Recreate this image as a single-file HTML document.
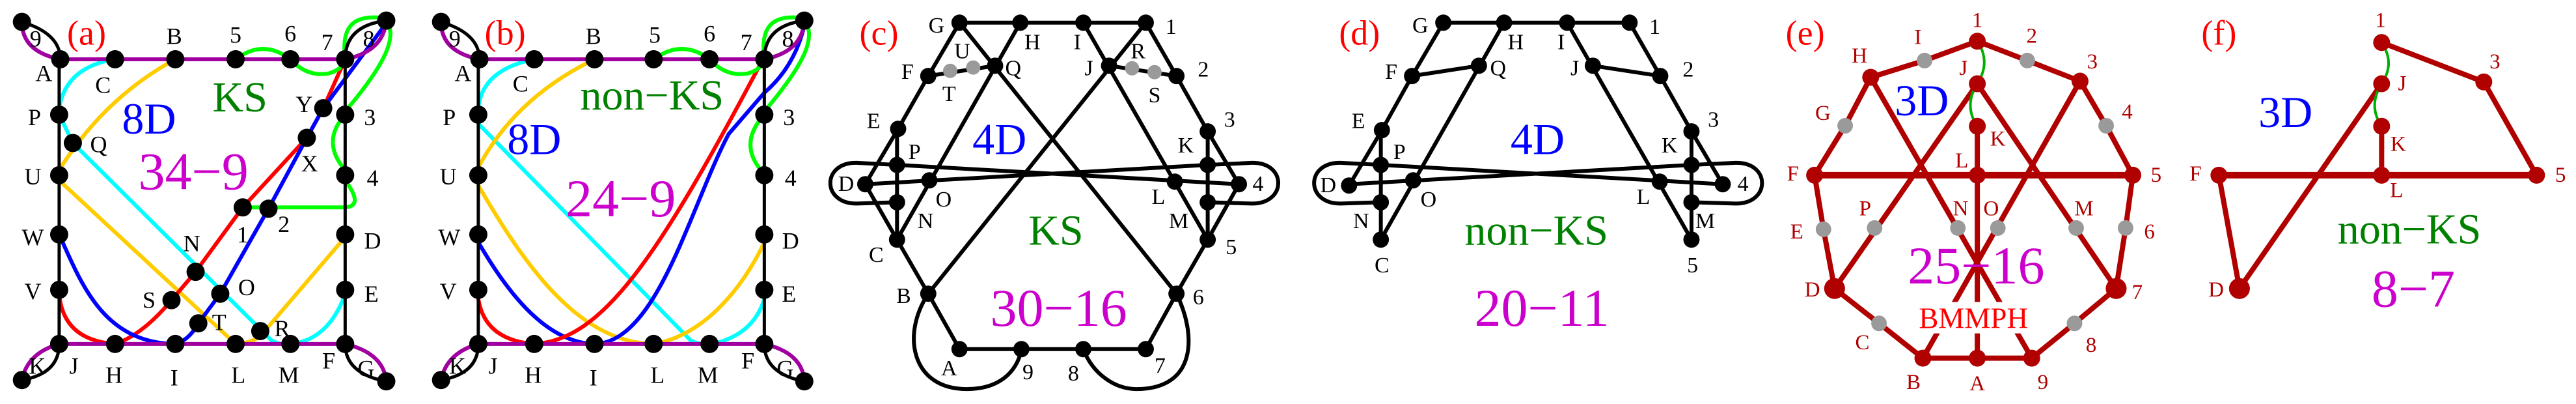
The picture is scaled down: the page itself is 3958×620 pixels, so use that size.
<!DOCTYPE html>
<html><head><meta charset="utf-8"><style>
html,body{margin:0;padding:0;background:#fff}
body{width:3958px;height:620px;position:relative;overflow:hidden}
svg.p{position:absolute;top:0;height:620px;overflow:visible}
svg path,svg polyline,svg line{vector-effect:non-scaling-stroke;fill:none;stroke-linejoin:round;stroke-linecap:round}
text{font-family:"Liberation Serif",serif;text-anchor:middle;dominant-baseline:central}
.s{font-size:36px;fill:#000}
.s2{font-size:34px;fill:#000}
.r{font-size:33px;fill:#b00000}
.lab{font-size:54px;fill:#f00}
.bl{font-size:68px;fill:#00f}
.gr{font-size:66px;fill:#008000}
.mg{font-size:82px;fill:#cc00cc}
</style></head><body>

<!-- Panels a, b -->
<svg class="p" style="left:0" width="1320" height="620" viewBox="0 0 1568 1568" preserveAspectRatio="none">
<g stroke-width="6">
<!-- a -->
<path stroke="#00ffff" d="M210,230 Q120,260 108,420 M108,445 L133,555 L495,1320 Q510,1340 530,1335 Q600,1320 630,1140"/>
<path stroke="#ffcc00" d="M320,230 Q190,380 108,660 M108,700 L430,1335 M430,1335 Q470,1330 485,1280 L630,920"/>
<path stroke="#f00" d="M108,1140 Q115,1320 210,1335 Q260,1300 313,1165 L357,1055 L443,805 L560,535 L590,420 L630,230"/>
<path stroke="#00f" d="M108,910 C150,1110 190,1330 320,1335 Q345,1320 362,1255 L402,1140 L490,810 L560,535 L590,420 L705,90"/>
<path stroke="#00ff00" d="M430,230 Q480,150 530,230 M530,230 Q560,300 600,285 Q625,270 630,230 M630,230 C620,70 660,60 705,70 M705,80 C730,150 690,280 635,420 M630,445 Q585,550 630,660 M630,700 Q665,800 630,805 L443,805"/>
<path stroke="#a000a0" d="M40,85 Q40,200 110,230 L630,230 Q700,200 705,80 M40,1475 Q50,1370 108,1335 L630,1335 Q700,1370 705,1480"/>
<path stroke="#000" stroke-width="5" d="M40,85 Q110,130 110,230 M630,230 Q630,100 705,80 M108,1335 Q108,1450 40,1475 M630,1335 Q630,1450 705,1480 M108,230 L108,1335 M630,230 L630,1335"/>
<!-- b -->
<path stroke="#00ffff" d="M975,230 Q880,270 873,420 M873,480 L1260,1320 Q1275,1340 1300,1335 Q1375,1300 1395,1160"/>
<path stroke="#ffcc00" d="M1085,230 Q940,380 873,650 M873,720 C950,1000 1050,1330 1193,1335 M1193,1335 C1290,1300 1360,1100 1395,940"/>
<path stroke="#00f" d="M873,940 C930,1150 1000,1330 1085,1335 C1200,1330 1260,800 1330,520 L1395,360 Q1450,260 1468,100"/>
<path stroke="#f00" d="M873,1160 Q885,1320 975,1335 C1100,1320 1200,1000 1385,260"/>
<path stroke="#00ff00" d="M1193,230 Q1245,150 1295,230 M1295,230 Q1325,300 1365,285 Q1390,270 1395,230 M1395,230 C1385,70 1425,60 1470,70 M1468,80 C1495,150 1455,280 1400,420 M1395,445 Q1350,550 1385,650"/>
<path stroke="#a000a0" d="M805,85 Q805,200 875,230 L1395,230 Q1465,200 1468,80 M805,1475 Q815,1370 873,1335 L1395,1335 Q1465,1370 1468,1480"/>
<path stroke="#000" stroke-width="5" d="M805,85 Q875,130 875,230 M1395,230 Q1395,100 1468,80 M873,1335 Q873,1450 805,1475 M1395,1335 Q1395,1450 1468,1480 M873,230 L873,1335 M1395,230 L1395,1335"/>
</g>
<g fill="#000">
<ellipse cx="40" cy="85" rx="16.6" ry="35.4"/><ellipse cx="110" cy="230" rx="16.6" ry="35.4"/><ellipse cx="210" cy="230" rx="16.6" ry="35.4"/><ellipse cx="320" cy="230" rx="16.6" ry="35.4"/><ellipse cx="430" cy="230" rx="16.6" ry="35.4"/><ellipse cx="530" cy="230" rx="16.6" ry="35.4"/><ellipse cx="630" cy="230" rx="16.6" ry="35.4"/><ellipse cx="705" cy="80" rx="16.6" ry="35.4"/>
<ellipse cx="108" cy="445" rx="16.6" ry="35.4"/><ellipse cx="133" cy="555" rx="16.6" ry="35.4"/><ellipse cx="108" cy="680" rx="16.6" ry="35.4"/><ellipse cx="108" cy="910" rx="16.6" ry="35.4"/><ellipse cx="108" cy="1125" rx="16.6" ry="35.4"/><ellipse cx="108" cy="1335" rx="16.6" ry="35.4"/><ellipse cx="40" cy="1475" rx="16.6" ry="35.4"/>
<ellipse cx="210" cy="1335" rx="16.6" ry="35.4"/><ellipse cx="320" cy="1335" rx="16.6" ry="35.4"/><ellipse cx="430" cy="1335" rx="16.6" ry="35.4"/><ellipse cx="530" cy="1335" rx="16.6" ry="35.4"/><ellipse cx="630" cy="1335" rx="16.6" ry="35.4"/><ellipse cx="705" cy="1480" rx="16.6" ry="35.4"/>
<ellipse cx="630" cy="445" rx="16.6" ry="35.4"/><ellipse cx="630" cy="680" rx="16.6" ry="35.4"/><ellipse cx="630" cy="910" rx="16.6" ry="35.4"/><ellipse cx="630" cy="1125" rx="16.6" ry="35.4"/>
<ellipse cx="590" cy="420" rx="16.6" ry="35.4"/><ellipse cx="560" cy="535" rx="16.6" ry="35.4"/><ellipse cx="443" cy="805" rx="16.6" ry="35.4"/><ellipse cx="490" cy="810" rx="16.6" ry="35.4"/><ellipse cx="357" cy="1055" rx="16.6" ry="35.4"/><ellipse cx="402" cy="1140" rx="16.6" ry="35.4"/><ellipse cx="313" cy="1165" rx="16.6" ry="35.4"/><ellipse cx="362" cy="1255" rx="16.6" ry="35.4"/><ellipse cx="475" cy="1285" rx="16.6" ry="35.4"/>
<ellipse cx="805" cy="85" rx="16.6" ry="35.4"/><ellipse cx="875" cy="230" rx="16.6" ry="35.4"/><ellipse cx="975" cy="230" rx="16.6" ry="35.4"/><ellipse cx="1085" cy="230" rx="16.6" ry="35.4"/><ellipse cx="1193" cy="230" rx="16.6" ry="35.4"/><ellipse cx="1295" cy="230" rx="16.6" ry="35.4"/><ellipse cx="1395" cy="230" rx="16.6" ry="35.4"/><ellipse cx="1468" cy="80" rx="16.6" ry="35.4"/>
<ellipse cx="873" cy="445" rx="16.6" ry="35.4"/><ellipse cx="873" cy="680" rx="16.6" ry="35.4"/><ellipse cx="873" cy="910" rx="16.6" ry="35.4"/><ellipse cx="873" cy="1125" rx="16.6" ry="35.4"/><ellipse cx="873" cy="1335" rx="16.6" ry="35.4"/><ellipse cx="805" cy="1475" rx="16.6" ry="35.4"/>
<ellipse cx="975" cy="1335" rx="16.6" ry="35.4"/><ellipse cx="1085" cy="1335" rx="16.6" ry="35.4"/><ellipse cx="1193" cy="1335" rx="16.6" ry="35.4"/><ellipse cx="1295" cy="1335" rx="16.6" ry="35.4"/><ellipse cx="1395" cy="1335" rx="16.6" ry="35.4"/><ellipse cx="1468" cy="1480" rx="16.6" ry="35.4"/>
<ellipse cx="1395" cy="445" rx="16.6" ry="35.4"/><ellipse cx="1395" cy="680" rx="16.6" ry="35.4"/><ellipse cx="1395" cy="910" rx="16.6" ry="35.4"/><ellipse cx="1395" cy="1125" rx="16.6" ry="35.4"/>
</g>
<g>
<text class="lab" transform="translate(158 128) scale(1.188 2.529)">(a)</text>
<text class="s" transform="translate(65 150) scale(1.188 2.529)">9</text>
<text class="s" transform="translate(318 140) scale(1.188 2.529)">B</text>
<text class="s" transform="translate(430 135) scale(1.188 2.529)">5</text>
<text class="s" transform="translate(530 130) scale(1.188 2.529)">6</text>
<text class="s" transform="translate(597 165) scale(1.188 2.529)">7</text>
<text class="s" transform="translate(673 150) scale(1.188 2.529)">8</text>
<text class="s" transform="translate(80 285) scale(1.188 2.529)">A</text>
<text class="s" transform="translate(188 330) scale(1.188 2.529)">C</text>
<text class="gr" transform="translate(438 378) scale(1.188 2.529)">KS</text>
<text class="bl" transform="translate(272 460) scale(1.188 2.529)">8D</text>
<text class="s" transform="translate(555 405) scale(1.188 2.529)">Y</text>
<text class="s" transform="translate(675 455) scale(1.188 2.529)">3</text>
<text class="s" transform="translate(63 455) scale(1.188 2.529)">P</text>
<text class="s" transform="translate(180 560) scale(1.188 2.529)">Q</text>
<text class="mg" transform="translate(353 665) scale(1.188 2.529)">34−9</text>
<text class="s" transform="translate(565 635) scale(1.188 2.529)">X</text>
<text class="s" transform="translate(60 685) scale(1.188 2.529)">U</text>
<text class="s" transform="translate(680 690) scale(1.188 2.529)">4</text>
<text class="s" transform="translate(443 910) scale(1.188 2.529)">1</text>
<text class="s" transform="translate(518 870) scale(1.188 2.529)">2</text>
<text class="s" transform="translate(60 920) scale(1.188 2.529)">W</text>
<text class="s" transform="translate(350 945) scale(1.188 2.529)">N</text>
<text class="s" transform="translate(680 935) scale(1.188 2.529)">D</text>
<text class="s" transform="translate(450 1115) scale(1.188 2.529)">O</text>
<text class="s" transform="translate(60 1130) scale(1.188 2.529)">V</text>
<text class="s" transform="translate(272 1165) scale(1.188 2.529)">S</text>
<text class="s" transform="translate(678 1140) scale(1.188 2.529)">E</text>
<text class="s" transform="translate(400 1250) scale(1.188 2.529)">T</text>
<text class="s" transform="translate(515 1275) scale(1.188 2.529)">R</text>
<text class="s" transform="translate(68 1420) scale(1.188 2.529)">K</text>
<text class="s" transform="translate(135 1420) scale(1.188 2.529)">J</text>
<text class="s" transform="translate(208 1455) scale(1.188 2.529)">H</text>
<text class="s" transform="translate(318 1465) scale(1.188 2.529)">I</text>
<text class="s" transform="translate(435 1455) scale(1.188 2.529)">L</text>
<text class="s" transform="translate(527 1455) scale(1.188 2.529)">M</text>
<text class="s" transform="translate(600 1400) scale(1.188 2.529)">F</text>
<text class="s" transform="translate(668 1430) scale(1.188 2.529)">G</text>

<text class="lab" transform="translate(922 128) scale(1.188 2.529)">(b)</text>
<text class="s" transform="translate(830 150) scale(1.188 2.529)">9</text>
<text class="s" transform="translate(1083 140) scale(1.188 2.529)">B</text>
<text class="s" transform="translate(1195 135) scale(1.188 2.529)">5</text>
<text class="s" transform="translate(1295 130) scale(1.188 2.529)">6</text>
<text class="s" transform="translate(1362 165) scale(1.188 2.529)">7</text>
<text class="s" transform="translate(1438 150) scale(1.188 2.529)">8</text>
<text class="s" transform="translate(845 285) scale(1.188 2.529)">A</text>
<text class="s" transform="translate(950 325) scale(1.188 2.529)">C</text>
<text class="gr" transform="translate(1190 370) scale(1.188 2.529)">non−KS</text>
<text class="bl" transform="translate(975 540) scale(1.188 2.529)">8D</text>
<text class="s" transform="translate(1440 455) scale(1.188 2.529)">3</text>
<text class="s" transform="translate(820 455) scale(1.188 2.529)">P</text>
<text class="mg" transform="translate(1133 770) scale(1.188 2.529)">24−9</text>
<text class="s" transform="translate(818 685) scale(1.188 2.529)">U</text>
<text class="s" transform="translate(1443 690) scale(1.188 2.529)">4</text>
<text class="s" transform="translate(820 920) scale(1.188 2.529)">W</text>
<text class="s" transform="translate(1443 935) scale(1.188 2.529)">D</text>
<text class="s" transform="translate(818 1130) scale(1.188 2.529)">V</text>
<text class="s" transform="translate(1440 1140) scale(1.188 2.529)">E</text>
<text class="s" transform="translate(835 1420) scale(1.188 2.529)">K</text>
<text class="s" transform="translate(900 1420) scale(1.188 2.529)">J</text>
<text class="s" transform="translate(973 1455) scale(1.188 2.529)">H</text>
<text class="s" transform="translate(1083 1465) scale(1.188 2.529)">I</text>
<text class="s" transform="translate(1200 1455) scale(1.188 2.529)">L</text>
<text class="s" transform="translate(1292 1455) scale(1.188 2.529)">M</text>
<text class="s" transform="translate(1365 1400) scale(1.188 2.529)">F</text>
<text class="s" transform="translate(1433 1430) scale(1.188 2.529)">G</text>
</g>
</svg>

<!-- Panels c, d -->
<svg class="p" style="left:1300px" width="1320" height="620" viewBox="0 0 1568 1568" preserveAspectRatio="none">
<g stroke="#000" stroke-width="6">
<polyline points="207,88 547,88"/>
<polyline points="207,88 150,295 95,500 35,715 93,930 150,1140 207,1355 547,1355 603,1140 660,930 717,715 660,510 603,295 547,88"/>
<line x1="93" y1="500" x2="93" y2="930"/>
<line x1="660" y1="510" x2="660" y2="930"/>
<line x1="207" y1="88" x2="603" y2="1140"/>
<line x1="318" y1="88" x2="93" y2="930"/>
<line x1="433" y1="88" x2="660" y2="930"/>
<line x1="547" y1="88" x2="150" y2="1140"/>
<line x1="150" y1="295" x2="272" y2="255"/>
<line x1="480" y1="255" x2="603" y2="295"/>
<line x1="93" y1="640" x2="717" y2="715"/>
<line x1="35" y1="715" x2="660" y2="640"/>
<path d="M93,640 L20,632 C-45,628 -45,792 20,790 L93,785"/>
<path d="M660,640 L740,632 C805,628 805,792 740,790 L660,785"/>
<path d="M150,1140 C100,1300 120,1510 220,1510 C290,1510 315,1420 320,1355"/>
<path d="M433,1355 C450,1450 490,1510 530,1510 C640,1510 640,1300 603,1140"/>
<!-- d -->
<polyline points="1090,88 1430,88"/>
<polyline points="1090,88 1033,295 978,505 918,720"/>
<line x1="1033" y1="295" x2="1155" y2="255"/>
<line x1="1201" y1="88" x2="976" y2="930"/>
<line x1="976" y1="505" x2="976" y2="930"/>
<polyline points="1430,88 1486,295 1543,510 1600,715"/>
<line x1="1363" y1="255" x2="1486" y2="295"/>
<line x1="1316" y1="88" x2="1543" y2="930"/>
<line x1="1543" y1="510" x2="1543" y2="930"/>
<line x1="976" y1="640" x2="1600" y2="715"/>
<line x1="918" y1="715" x2="1543" y2="640"/>
<path d="M976,640 L903,632 C838,628 838,792 903,790 L976,785"/>
<path d="M1543,640 L1623,632 C1688,628 1688,792 1623,790 L1543,785"/>
</g>
<g fill="#000">
<ellipse cx="207" cy="88" rx="14.8" ry="31.6"/><ellipse cx="318" cy="88" rx="14.8" ry="31.6"/><ellipse cx="433" cy="88" rx="14.8" ry="31.6"/><ellipse cx="547" cy="88" rx="14.8" ry="31.6"/>
<ellipse cx="150" cy="295" rx="14.8" ry="31.6"/><ellipse cx="272" cy="255" rx="14.8" ry="31.6"/><ellipse cx="480" cy="255" rx="14.8" ry="31.6"/><ellipse cx="603" cy="295" rx="14.8" ry="31.6"/>
<ellipse cx="95" cy="500" rx="14.8" ry="31.6"/><ellipse cx="93" cy="640" rx="14.8" ry="31.6"/><ellipse cx="35" cy="715" rx="14.8" ry="31.6"/><ellipse cx="152" cy="700" rx="14.8" ry="31.6"/><ellipse cx="93" cy="785" rx="14.8" ry="31.6"/><ellipse cx="93" cy="930" rx="14.8" ry="31.6"/><ellipse cx="150" cy="1140" rx="14.8" ry="31.6"/>
<ellipse cx="207" cy="1355" rx="14.8" ry="31.6"/><ellipse cx="320" cy="1355" rx="14.8" ry="31.6"/><ellipse cx="433" cy="1355" rx="14.8" ry="31.6"/><ellipse cx="547" cy="1355" rx="14.8" ry="31.6"/>
<ellipse cx="603" cy="1140" rx="14.8" ry="31.6"/><ellipse cx="660" cy="930" rx="14.8" ry="31.6"/><ellipse cx="660" cy="785" rx="14.8" ry="31.6"/><ellipse cx="717" cy="715" rx="14.8" ry="31.6"/><ellipse cx="600" cy="705" rx="14.8" ry="31.6"/><ellipse cx="660" cy="640" rx="14.8" ry="31.6"/><ellipse cx="660" cy="510" rx="14.8" ry="31.6"/>
<ellipse cx="1090" cy="88" rx="14.8" ry="31.6"/><ellipse cx="1201" cy="88" rx="14.8" ry="31.6"/><ellipse cx="1316" cy="88" rx="14.8" ry="31.6"/><ellipse cx="1430" cy="88" rx="14.8" ry="31.6"/>
<ellipse cx="1033" cy="295" rx="14.8" ry="31.6"/><ellipse cx="1155" cy="255" rx="14.8" ry="31.6"/><ellipse cx="1363" cy="255" rx="14.8" ry="31.6"/><ellipse cx="1486" cy="295" rx="14.8" ry="31.6"/>
<ellipse cx="978" cy="505" rx="14.8" ry="31.6"/><ellipse cx="976" cy="640" rx="14.8" ry="31.6"/><ellipse cx="918" cy="720" rx="14.8" ry="31.6"/><ellipse cx="1035" cy="700" rx="14.8" ry="31.6"/><ellipse cx="976" cy="785" rx="14.8" ry="31.6"/><ellipse cx="976" cy="930" rx="14.8" ry="31.6"/>
<ellipse cx="1543" cy="640" rx="14.8" ry="31.6"/><ellipse cx="1485" cy="705" rx="14.8" ry="31.6"/><ellipse cx="1543" cy="785" rx="14.8" ry="31.6"/><ellipse cx="1543" cy="930" rx="14.8" ry="31.6"/><ellipse cx="1543" cy="510" rx="14.8" ry="31.6"/><ellipse cx="1600" cy="715" rx="14.8" ry="31.6"/>
</g>
<g fill="#9a9a9a">
<ellipse cx="190" cy="275" rx="13" ry="27.8"/><ellipse cx="232" cy="262" rx="13" ry="27.8"/><ellipse cx="522" cy="265" rx="13" ry="27.8"/><ellipse cx="563" cy="280" rx="13" ry="27.8"/>
</g>
<g>
<text class="lab" transform="translate(60 128) scale(1.188 2.529)">(c)</text>
<text class="s2" transform="translate(165 100) scale(1.188 2.529)">G</text>
<text class="s2" transform="translate(340 165) scale(1.188 2.529)">H</text>
<text class="s2" transform="translate(422 165) scale(1.188 2.529)">I</text>
<text class="s2" transform="translate(593 105) scale(1.188 2.529)">1</text>
<text class="s2" transform="translate(212 200) scale(1.188 2.529)">U</text>
<text class="s2" transform="translate(112 280) scale(1.188 2.529)">F</text>
<text class="s2" transform="translate(188 365) scale(1.188 2.529)">T</text>
<text class="s2" transform="translate(305 265) scale(1.188 2.529)">Q</text>
<text class="s2" transform="translate(443 265) scale(1.188 2.529)">J</text>
<text class="s2" transform="translate(533 200) scale(1.188 2.529)">R</text>
<text class="s2" transform="translate(563 370) scale(1.188 2.529)">S</text>
<text class="s2" transform="translate(652 270) scale(1.188 2.529)">2</text>
<text class="s2" transform="translate(50 470) scale(1.188 2.529)">E</text>
<text class="s2" transform="translate(700 465) scale(1.188 2.529)">3</text>
<text class="bl" transform="translate(280 540) scale(1.188 2.529)">4D</text>
<text class="s2" transform="translate(125 590) scale(1.188 2.529)">P</text>
<text class="s2" transform="translate(620 565) scale(1.188 2.529)">K</text>
<text class="s2" transform="translate(0 715) scale(1.188 2.529)">D</text>
<text class="s2" transform="translate(178 775) scale(1.188 2.529)">O</text>
<text class="s2" transform="translate(752 715) scale(1.188 2.529)">4</text>
<text class="s2" transform="translate(570 765) scale(1.188 2.529)">L</text>
<text class="s2" transform="translate(145 858) scale(1.188 2.529)">N</text>
<text class="s2" transform="translate(607 858) scale(1.188 2.529)">M</text>
<text class="gr" transform="translate(383 895) scale(1.188 2.529)">KS</text>
<text class="s2" transform="translate(55 990) scale(1.188 2.529)">C</text>
<text class="s2" transform="translate(703 960) scale(1.188 2.529)">5</text>
<text class="s2" transform="translate(105 1150) scale(1.188 2.529)">B</text>
<text class="s2" transform="translate(643 1155) scale(1.188 2.529)">6</text>
<text class="mg" transform="translate(388 1195) scale(1.188 2.529)">30−16</text>
<text class="s2" transform="translate(188 1430) scale(1.188 2.529)">A</text>
<text class="s2" transform="translate(332 1445) scale(1.188 2.529)">9</text>
<text class="s2" transform="translate(415 1450) scale(1.188 2.529)">8</text>
<text class="s2" transform="translate(573 1420) scale(1.188 2.529)">7</text>

<text class="lab" transform="translate(937 128) scale(1.188 2.529)">(d)</text>
<text class="s2" transform="translate(1048 100) scale(1.188 2.529)">G</text>
<text class="s2" transform="translate(1222 165) scale(1.188 2.529)">H</text>
<text class="s2" transform="translate(1305 165) scale(1.188 2.529)">I</text>
<text class="s2" transform="translate(1476 105) scale(1.188 2.529)">1</text>
<text class="s2" transform="translate(995 280) scale(1.188 2.529)">F</text>
<text class="s2" transform="translate(1190 265) scale(1.188 2.529)">Q</text>
<text class="s2" transform="translate(1330 265) scale(1.188 2.529)">J</text>
<text class="s2" transform="translate(1537 270) scale(1.188 2.529)">2</text>
<text class="s2" transform="translate(935 470) scale(1.188 2.529)">E</text>
<text class="s2" transform="translate(1583 465) scale(1.188 2.529)">3</text>
<text class="bl" transform="translate(1262 540) scale(1.188 2.529)">4D</text>
<text class="s2" transform="translate(1010 590) scale(1.188 2.529)">P</text>
<text class="s2" transform="translate(1503 565) scale(1.188 2.529)">K</text>
<text class="s2" transform="translate(880 720) scale(1.188 2.529)">D</text>
<text class="s2" transform="translate(1063 775) scale(1.188 2.529)">O</text>
<text class="s2" transform="translate(1637 715) scale(1.188 2.529)">4</text>
<text class="s2" transform="translate(1455 765) scale(1.188 2.529)">L</text>
<text class="s2" transform="translate(940 858) scale(1.188 2.529)">N</text>
<text class="s2" transform="translate(1568 858) scale(1.188 2.529)">M</text>
<text class="gr" transform="translate(1260 895) scale(1.188 2.529)">non−KS</text>
<text class="s2" transform="translate(978 1030) scale(1.188 2.529)">C</text>
<text class="s2" transform="translate(1545 1030) scale(1.188 2.529)">5</text>
<text class="mg" transform="translate(1270 1195) scale(1.188 2.529)">20−11</text>
</g>
</svg>

<!-- Panels e, f -->
<svg class="p" style="left:2620px" width="1338" height="620" viewBox="0 0 1568 1568" preserveAspectRatio="none">
<g stroke="#b00000" stroke-width="8">
<polyline points="298,300 395,235 490,160 580,235 675,315 722,488 770,680 757,885 740,1120 665,1255 588,1390 490,1390 392,1390 313,1255 233,1120 213,890 197,680 252,488 298,300"/>
<line x1="197" y1="680" x2="770" y2="680" stroke-width="10"/>
<line x1="298" y1="300" x2="588" y2="1390"/>
<line x1="675" y1="315" x2="392" y2="1390"/>
<line x1="490" y1="325" x2="233" y2="1120"/>
<line x1="490" y1="325" x2="740" y2="1120"/>
<line x1="490" y1="490" x2="490" y2="1390"/>
<polyline points="1218,165 1402,318 1497,680"/>
<line x1="925" y1="680" x2="1497" y2="680" stroke-width="10"/>
<polyline points="925,680 962,1120 1218,325"/>
<line x1="1218" y1="490" x2="1218" y2="680"/>
</g>
<rect x="378" y="1172" width="214" height="122" fill="#fff"/>
<g stroke="#00b000" stroke-width="4">
<path d="M490,160 Q515,240 490,325 M490,325 Q465,410 490,490"/>
<path d="M1218,165 Q1243,245 1218,325 M1218,325 Q1193,410 1218,490"/>
</g>
<g fill="#b00000">
<ellipse cx="490" cy="160" rx="15.2" ry="32.9"/><ellipse cx="298" cy="300" rx="15.2" ry="32.9"/><ellipse cx="675" cy="315" rx="15.2" ry="32.9"/><ellipse cx="490" cy="325" rx="15.2" ry="32.9"/><ellipse cx="490" cy="490" rx="15.2" ry="32.9"/><ellipse cx="197" cy="680" rx="15.2" ry="32.9"/><ellipse cx="490" cy="680" rx="15.2" ry="32.9"/><ellipse cx="770" cy="680" rx="15.2" ry="32.9"/><ellipse cx="392" cy="1390" rx="15.2" ry="32.9"/><ellipse cx="490" cy="1390" rx="15.2" ry="32.9"/><ellipse cx="588" cy="1390" rx="15.2" ry="32.9"/>
<ellipse cx="233" cy="1120" rx="18.8" ry="40.5"/><ellipse cx="740" cy="1120" rx="18.8" ry="40.5"/>
<ellipse cx="1218" cy="165" rx="15.2" ry="32.9"/><ellipse cx="1402" cy="318" rx="15.2" ry="32.9"/><ellipse cx="1218" cy="325" rx="15.2" ry="32.9"/><ellipse cx="1218" cy="490" rx="15.2" ry="32.9"/><ellipse cx="925" cy="680" rx="15.2" ry="32.9"/><ellipse cx="1218" cy="680" rx="15.2" ry="32.9"/><ellipse cx="1497" cy="680" rx="15.2" ry="32.9"/>
<ellipse cx="962" cy="1120" rx="18.8" ry="40.5"/>
</g>
<g fill="#9a9a9a">
<ellipse cx="395" cy="235" rx="14" ry="30.4"/><ellipse cx="580" cy="235" rx="14" ry="30.4"/><ellipse cx="252" cy="488" rx="14" ry="30.4"/><ellipse cx="722" cy="488" rx="14" ry="30.4"/>
<ellipse cx="213" cy="890" rx="14" ry="30.4"/><ellipse cx="305" cy="885" rx="14" ry="30.4"/><ellipse cx="455" cy="885" rx="14" ry="30.4"/><ellipse cx="527" cy="885" rx="14" ry="30.4"/><ellipse cx="668" cy="885" rx="14" ry="30.4"/><ellipse cx="757" cy="885" rx="14" ry="30.4"/>
<ellipse cx="313" cy="1255" rx="14" ry="30.4"/><ellipse cx="665" cy="1255" rx="14" ry="30.4"/>
</g>
<g>
<text class="lab" transform="translate(180 128) scale(1.172 2.529)">(e)</text>
<text class="r" transform="translate(490 80) scale(1.172 2.529)">1</text>
<text class="r" transform="translate(383 145) scale(1.172 2.529)">I</text>
<text class="r" transform="translate(588 140) scale(1.172 2.529)">2</text>
<text class="r" transform="translate(278 218) scale(1.172 2.529)">H</text>
<text class="r" transform="translate(697 240) scale(1.172 2.529)">3</text>
<text class="r" transform="translate(465 265) scale(1.172 2.529)">J</text>
<text class="bl" transform="translate(390 390) scale(1.172 2.529)">3D</text>
<text class="r" transform="translate(212 440) scale(1.172 2.529)">G</text>
<text class="r" transform="translate(760 435) scale(1.172 2.529)">4</text>
<text class="r" transform="translate(527 540) scale(1.172 2.529)">K</text>
<text class="r" transform="translate(462 625) scale(1.172 2.529)">L</text>
<text class="r" transform="translate(158 675) scale(1.172 2.529)">F</text>
<text class="r" transform="translate(812 680) scale(1.172 2.529)">5</text>
<text class="r" transform="translate(288 810) scale(1.172 2.529)">P</text>
<text class="r" transform="translate(460 810) scale(1.172 2.529)">N</text>
<text class="r" transform="translate(515 810) scale(1.172 2.529)">O</text>
<text class="r" transform="translate(682 810) scale(1.172 2.529)">M</text>
<text class="r" transform="translate(165 900) scale(1.172 2.529)">E</text>
<text class="r" transform="translate(800 900) scale(1.172 2.529)">6</text>
<text class="mg" transform="translate(488 1030) scale(1.172 2.529)">25−16</text>
<text class="r" transform="translate(193 1125) scale(1.172 2.529)">D</text>
<text class="r" transform="translate(778 1135) scale(1.172 2.529)">7</text>
<text style="font-size:45px;fill:#f00" transform="translate(483 1235) scale(1.172 2.529)">BMMPH</text>
<text class="r" transform="translate(283 1330) scale(1.172 2.529)">C</text>
<text class="r" transform="translate(695 1340) scale(1.172 2.529)">8</text>
<text class="r" transform="translate(375 1485) scale(1.172 2.529)">B</text>
<text class="r" transform="translate(490 1490) scale(1.172 2.529)">A</text>
<text class="r" transform="translate(608 1485) scale(1.172 2.529)">9</text>

<text class="lab" transform="translate(925 128) scale(1.172 2.529)">(f)</text>
<text class="r" transform="translate(1216 80) scale(1.172 2.529)">1</text>
<text class="r" transform="translate(1422 240) scale(1.172 2.529)">3</text>
<text class="r" transform="translate(1255 325) scale(1.172 2.529)">J</text>
<text class="bl" transform="translate(1045 435) scale(1.172 2.529)">3D</text>
<text class="r" transform="translate(1248 560) scale(1.172 2.529)">K</text>
<text class="r" transform="translate(883 675) scale(1.172 2.529)">F</text>
<text class="r" transform="translate(1540 680) scale(1.172 2.529)">5</text>
<text class="r" transform="translate(1245 740) scale(1.172 2.529)">L</text>
<text class="gr" transform="translate(1268 890) scale(1.172 2.529)">non−KS</text>
<text class="r" transform="translate(920 1125) scale(1.172 2.529)">D</text>
<text class="mg" transform="translate(1275 1120) scale(1.172 2.529)">8−7</text>
</g>
</svg>
</body></html>
